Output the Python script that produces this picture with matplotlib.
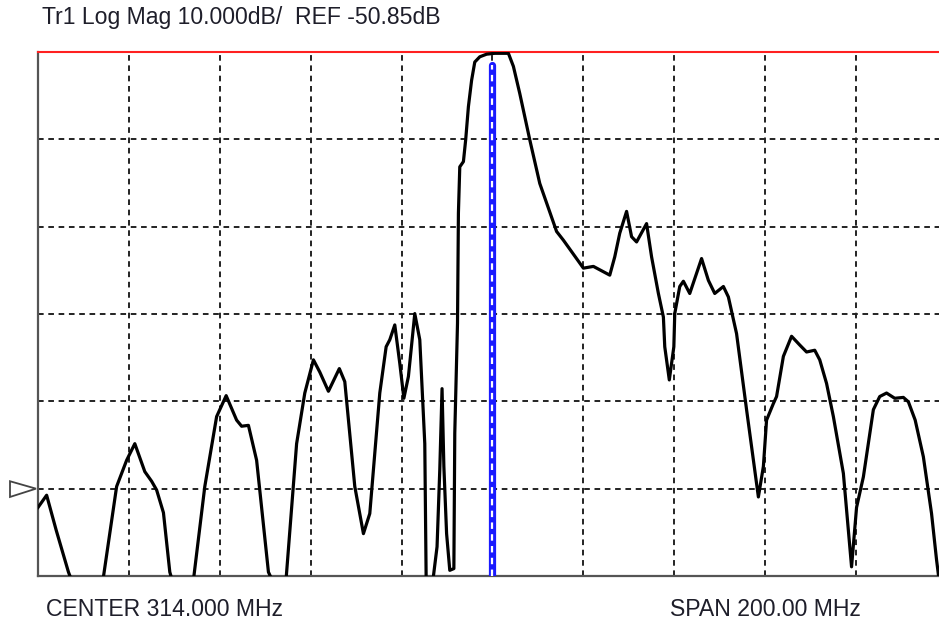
import matplotlib
matplotlib.use("Agg")
import matplotlib.pyplot as plt
from matplotlib.patches import Polygon
from matplotlib.transforms import blended_transform_factory

# ---- instrument settings ----
center_mhz = 314.0
span_mhz = 200.0
ref_db = -50.85
scale_db = 10.0
ref_div = 1            # reference position (divisions from bottom)
n_xdiv = 10
n_ydiv = 6

title_text = "Tr1 Log Mag 10.000dB/  REF -50.85dB"
center_text = "CENTER 314.000 MHz"
span_text = "SPAN 200.00 MHz"

# ---- trace data ----
freq_mhz = [214.0, 215.9, 218.0, 220.7, 221.5, 225.8, 228.3, 231.3, 233.5, 235.3,
            237.5, 239.0, 240.1, 241.6, 243.0, 243.5, 246.3, 248.2, 250.7, 253.3,
            255.4, 257.7, 258.8, 260.3, 262.1, 264.7, 265.5, 267.9, 268.6, 270.9,
            272.7, 274.6, 276.0, 277.9, 280.3, 281.5, 283.7, 285.6, 287.0, 289.2,
            290.6, 291.4, 292.5, 293.6, 294.5, 295.5, 296.9, 298.0, 299.1, 299.4,
            300.9, 301.8, 302.4, 302.9, 303.3, 303.9, 304.6, 305.5, 305.7, 306.3,
            306.5, 306.8, 307.6, 308.1, 308.7, 309.4, 310.1, 311.2, 312.7, 314.5,
            317.5, 318.6, 320.0, 322.2, 324.4, 328.1, 329.6, 334.0, 336.2, 339.8,
            340.9, 342.0, 343.5, 344.6, 345.7, 347.9, 349.0, 350.5, 351.6, 351.9,
            352.9, 353.9, 354.1, 355.2, 356.0, 357.4, 358.9, 360.0, 361.5, 362.9,
            364.8, 365.9, 367.0, 367.7, 369.9, 372.5, 373.6, 374.3, 375.8, 376.5,
            378.0, 379.8, 381.6, 383.1, 384.9, 386.0, 387.5, 389.0, 391.2, 393.0,
            394.1, 395.6, 397.8, 399.2, 400.7, 402.5, 404.4, 405.5, 407.0, 408.8,
            410.6, 411.7, 412.4]
mag_db = [-53.0, -51.6, -55.6, -60.4, -61.5, -62.0, -61.3, -50.6, -47.6, -45.7,
          -48.9, -50.0, -51.0, -53.6, -60.4, -61.3, -62.0, -61.3, -50.6, -42.6,
          -40.2, -43.0, -43.7, -43.6, -47.6, -60.4, -61.3, -61.3, -61.1, -45.7,
          -39.9, -36.1, -37.5, -39.7, -37.1, -38.6, -50.6, -56.0, -53.7, -39.9,
          -34.6, -33.8, -32.1, -36.5, -40.5, -38.0, -30.8, -33.8, -45.7, -61.1,
          -61.3, -57.5, -48.7, -39.4, -48.3, -56.0, -60.2, -60.0, -44.5, -31.9,
          -19.3, -14.0, -13.4, -10.9, -7.1, -4.1, -2.0, -1.4, -1.1, -1.0,
          -1.0, -2.5, -5.6, -10.9, -15.9, -21.4, -22.4, -25.6, -25.4, -26.4,
          -24.3, -21.6, -19.1, -22.0, -22.6, -20.5, -24.3, -28.5, -31.2, -34.6,
          -38.4, -34.6, -30.8, -27.7, -27.1, -28.5, -26.2, -24.5, -27.0, -28.5,
          -27.7, -28.9, -31.5, -33.1, -41.8, -51.8, -48.3, -43.0, -41.1, -40.3,
          -35.7, -33.4, -34.4, -35.2, -35.0, -36.1, -38.8, -42.6, -49.1, -59.8,
          -53.0, -49.5, -41.8, -40.3, -39.9, -40.5, -40.4, -40.9, -43.0, -47.2,
          -53.7, -59.0, -61.9]

marker_mhz = 314.0
marker_top_db = -2.3

# ---- derived scale ----
f_start = center_mhz - span_mhz / 2
f_stop = center_mhz + span_mhz / 2
y_bottom = ref_db - ref_div * scale_db
y_top = y_bottom + n_ydiv * scale_db

plt.rcParams["font.family"] = ["Liberation Sans", "DejaVu Sans"]

W, H = 939, 624
fig = plt.figure(figsize=(W / 100, H / 100), dpi=100)
# plot area runs off the right edge of the picture, as in the reference
ax = fig.add_axes([38 / W, 48 / H, 909 / W, 524 / H])
ax.set_xlim(f_start, f_stop)
ax.set_ylim(y_bottom, y_top)

ax.set_xticks([f_start + i * span_mhz / n_xdiv for i in range(1, n_xdiv)])
ax.set_yticks([y_bottom + i * scale_db for i in range(1, n_ydiv)])
ax.tick_params(length=0, labelbottom=False, labelleft=False)
ax.grid(True, color="#222222", linewidth=1.4, linestyle=(0, (2.9, 2.4)))
ax.set_axisbelow(True)

ax.spines["right"].set_visible(False)
ax.spines["left"].set_color("#555555")
ax.spines["left"].set_linewidth(1.6)
ax.spines["bottom"].set_color("#555555")
ax.spines["bottom"].set_linewidth(1.6)
ax.spines["top"].set_color("#ff2020")
ax.spines["top"].set_linewidth(1.5)

# marker bar
ax.plot([marker_mhz, marker_mhz], [y_bottom, marker_top_db], color="#1a1aff",
        linewidth=5.2, solid_capstyle="round", zorder=3)
ax.plot([marker_mhz, marker_mhz], [y_bottom, marker_top_db], color="white",
        linewidth=1.6, linestyle=(0, (2.9, 2.4)), zorder=4)

# trace
ax.plot(freq_mhz, mag_db, color="black", linewidth=2.3, zorder=5,
        solid_joinstyle="round")

# reference position triangle
tr = blended_transform_factory(ax.transAxes, ax.transData)
tri = Polygon([(-28 / 909, ref_db + 0.85), (-28 / 909, ref_db - 0.95),
               (-2 / 909, ref_db)], closed=True, facecolor="white",
              edgecolor="#444444", linewidth=1.3, transform=tr, clip_on=False)
ax.add_patch(tri)

txt_color = "#1e1e2a"
fig.text(42 / W, 1 - 24 / H, title_text, fontsize=16.6, color=txt_color,
         va="baseline", ha="left")
fig.text(46 / W, 1 - 616 / H, center_text, fontsize=16.6, color=txt_color,
         va="baseline", ha="left")
fig.text(670 / W, 1 - 616 / H, span_text, fontsize=16.6, color=txt_color,
         va="baseline", ha="left")

fig.savefig("out.png", dpi=100, facecolor="white")
